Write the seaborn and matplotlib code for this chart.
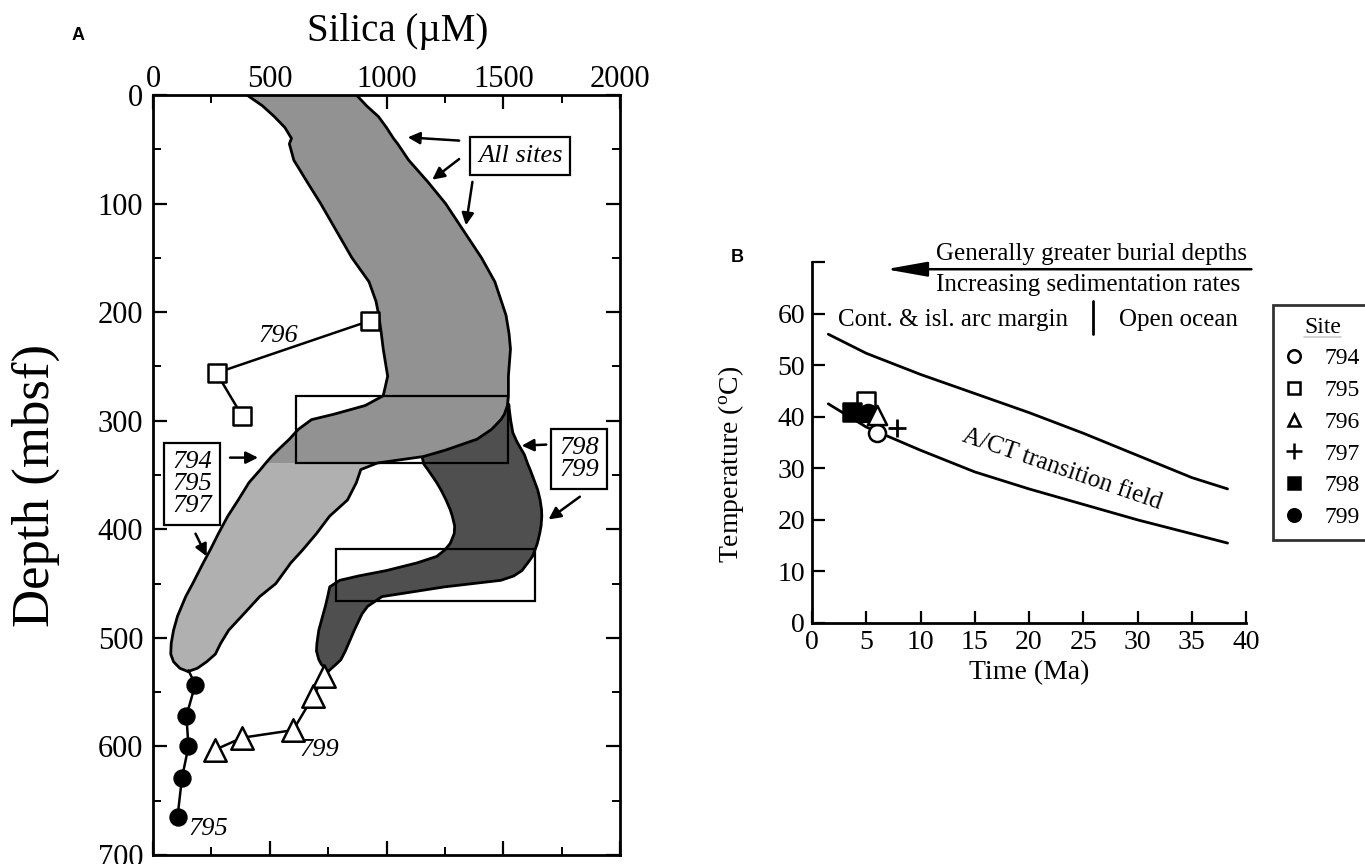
import numpy as np
import pandas as pd
import matplotlib
matplotlib.use("Agg")
import matplotlib.pyplot as plt
import seaborn as sns
from matplotlib.patches import Rectangle
from matplotlib.lines import Line2D

# ---------------- Panel A data (silica uM vs depth mbsf) ----------------
depth_light = [0, 10, 20, 30, 40, 45, 60, 80, 100, 125, 150, 172, 190, 203, 220, 234,
               259, 277, 286, 294, 299, 308, 317, 327, 333, 339, 345, 357, 373, 388,
               404, 419, 431, 450, 462, 480, 493, 505, 515, 522, 528, 531]
left_light = [402, 469, 520, 565, 593, 584, 603, 660, 718, 785, 852, 925, 955, 967, 978, 986,
              1005, 986, 909, 775, 679, 622, 584, 535, 507, 483, 460, 411, 365, 320,
              280, 245, 215, 170, 140, 105, 88, 78, 76, 88, 115, 150]
right_light = [871, 915, 966, 1000, 1030, 1048, 1095, 1177, 1253, 1330, 1407, 1464, 1492, 1512, 1525, 1531,
               1522, 1522, 1518, 1505, 1490, 1450, 1388, 1254, 1158, 960, 890, 871, 833, 756,
               700, 641, 590, 526, 457, 380, 324, 290, 267, 230, 190, 150]

depth_dark = [285, 290, 300, 311, 320, 327, 331, 340, 345, 357, 364, 373, 382, 388, 397, 404,
              413, 419, 425, 431, 438, 443, 447, 453, 462, 471, 478, 493, 505, 512, 520, 524, 528, 531]
left_dark = [1520, 1480, 1380, 1270, 1200, 1160, 1150, 1160, 1177, 1215, 1234, 1255, 1273, 1282, 1292, 1290,
             1273, 1250, 1215, 1130, 1000, 880, 800, 757, 748, 738, 729, 710, 702, 700, 710, 720, 735, 750]
right_dark = [1524, 1526, 1532, 1541, 1560, 1579, 1590, 1605, 1615, 1636, 1648, 1658, 1664, 1665, 1662, 1656,
              1646, 1636, 1625, 1605, 1580, 1545, 1490, 1250, 981, 919, 895, 862, 838, 824, 805, 786, 765, 750]

site796_si = [928, 272, 383]
site796_depth = [208, 256, 296]
site795_si = [152, 181, 143, 152, 124, 105]
site795_depth = [530, 543, 572, 600, 629, 665]
site799_si = [748, 733, 686, 600, 381, 267]
site799_depth = [530, 535, 554, 585, 592, 603]

box_si_lo = [612, 785]
box_si_hi = [1522, 1636]
box_depth_top = [277, 418]
box_depth_bot = [339, 466]

# ---------------- Panel B data ----------------
time_curve = [1.5, 5, 10, 15, 20, 25, 30, 35, 38.3]
temp_upper = [56, 52.3, 48.2, 44.5, 40.8, 36.8, 32.5, 28.2, 26]
temp_lower = [42.5, 38, 33.5, 29.3, 26, 23, 20, 17.3, 15.5]

site_names = ['794', '794', '795', '798', '799', '796', '797']
site_time = [4.7, 6.0, 5.0, 3.7, 5.2, 6.0, 7.8]
site_temp = [40.7, 36.8, 43.0, 40.9, 40.7, 40.3, 37.8]

legend_sites = ['794', '795', '796', '797', '798', '799']
site_marker = {'794': 'o', '795': 's', '796': '^', '797': '+', '798': 's', '799': 'o'}
site_face = {'794': 'white', '795': 'white', '796': 'white', '797': 'black', '798': 'black', '799': 'black'}

# ---------------- style ----------------
sns.set_theme(style="ticks")
plt.rcParams['font.family'] = ['Liberation Serif', 'DejaVu Serif']
plt.rcParams['mathtext.fontset'] = 'custom'
plt.rcParams['mathtext.rm'] = 'Liberation Serif'
plt.rcParams['mathtext.it'] = 'Liberation Serif:italic'
for key in ['text.color', 'axes.labelcolor', 'xtick.color', 'ytick.color', 'axes.edgecolor']:
    plt.rcParams[key] = 'black'

W, H = 1365, 864
fig = plt.figure(figsize=(W / 100, H / 100), dpi=100)
fig.patch.set_facecolor('white')

# ================= Panel A =================
ax = fig.add_axes([153 / W, 1 - 855 / H, (620 - 153) / W, (855 - 95) / H])
dl = np.array(depth_light)
ax.fill_betweenx(dl, left_light, right_light, where=dl >= 335, color='#b0b0b0', lw=0, zorder=2)
ax.fill_betweenx(depth_dark, left_dark, right_dark, color='#4f4f4f', lw=0, zorder=1)
ax.fill_betweenx(dl, left_light, right_light, where=dl <= 339, color='#929292', lw=0, zorder=2)

for xs, ys, z in [(left_light, depth_light, 3), (right_light, depth_light, 3),
                  (left_dark, depth_dark, 1.5), (right_dark, depth_dark, 1.5)]:
    sns.lineplot(x=xs, y=ys, sort=False, estimator=None, orient='y', color='black',
                 lw=2, ax=ax, zorder=z)

for x0, x1, d0, d1 in zip(box_si_lo, box_si_hi, box_depth_top, box_depth_bot):
    ax.add_patch(Rectangle((x0, d0), x1 - x0, d1 - d0, fill=False, ec='black', lw=1.6, zorder=4))

sns.lineplot(x=site796_si, y=site796_depth, sort=False, estimator=None, orient='y',
             color='black', lw=1.8, ax=ax, zorder=5)
sns.scatterplot(x=site796_si, y=site796_depth, marker='s', s=150, facecolor='white',
                edgecolor='black', linewidth=1.8, ax=ax, zorder=6)
sns.lineplot(x=site795_si, y=site795_depth, sort=False, estimator=None, orient='y',
             color='black', lw=1.8, ax=ax, zorder=5)
sns.scatterplot(x=site795_si[1:], y=site795_depth[1:], marker='o', s=150, facecolor='black',
                edgecolor='black', ax=ax, zorder=6)
sns.lineplot(x=site799_si, y=site799_depth, sort=False, estimator=None, orient='y',
             color='black', lw=1.8, ax=ax, zorder=5)
sns.scatterplot(x=site799_si[1:], y=site799_depth[1:], marker='^', s=260, facecolor='white',
                edgecolor='black', linewidth=1.8, ax=ax, zorder=6)

ax.text(536, 222, '796', style='italic', fontsize=19, ha='center', va='center')
ax.text(238, 676, '795', style='italic', fontsize=19, ha='center', va='center')
ax.text(714, 603, '799', style='italic', fontsize=19, ha='center', va='center')

boxprops = dict(boxstyle='square,pad=0.3', fc='white', ec='black', lw=1.6)
ax.text(1573, 56, 'All sites', style='italic', fontsize=19, ha='center', va='center', bbox=boxprops, zorder=7)
ax.text(168, 358, '794\n795\n797', style='italic', fontsize=19, ha='center', va='center',
        linespacing=1.0, bbox=boxprops, zorder=7)
ax.text(1825, 335, '798\n799', style='italic', fontsize=19, ha='center', va='center',
        linespacing=1.0, bbox=boxprops, zorder=7)

arrows_a = [((1311, 42), (1091, 39)), ((1311, 59), (1196, 78)), ((1368, 80), (1340, 120)),
            ((330, 334), (450, 334)), ((182, 404), (230, 425)),
            ((1684, 322), (1579, 323)), ((1828, 370), (1694, 391))]
for tail, head in arrows_a:
    ax.annotate('', xy=head, xytext=tail,
                arrowprops=dict(arrowstyle='-|>', color='black', lw=1.8, mutation_scale=18,
                                shrinkA=0, shrinkB=0), zorder=7)

ax.set_xlim(0, 2000)
ax.set_ylim(700, 0)
ax.set_xticks(np.arange(0, 2001, 500))
ax.set_xticks(np.arange(0, 2001, 250), minor=True)
ax.set_yticks(np.arange(0, 701, 100))
ax.set_yticks(np.arange(0, 701, 50), minor=True)
ax.xaxis.set_label_position('top')
ax.tick_params(axis='x', which='both', top=True, bottom=True, labeltop=True, labelbottom=False,
               direction='in')
ax.tick_params(axis='y', which='both', left=True, right=True, direction='in')
ax.tick_params(which='major', length=10, width=1.6, labelsize=22)
ax.tick_params(axis='x', which='major', pad=1)
ax.tick_params(axis='y', which='major', pad=7)
ax.tick_params(which='minor', length=6, width=1.4)
for sp in ax.spines.values():
    sp.set_linewidth(2)
    sp.set_color('black')
ax.set_xlabel('Silica (\u00b5M)', fontsize=28)
ax.xaxis.label.set_va('center')
ax.xaxis.set_label_coords(0.523, 1.083)
ax.set_ylabel('Depth (mbsf)', fontsize=38)
ax.yaxis.set_label_coords(-0.199, 0.486)
fig.text(78 / W, 1 - 35 / H, 'A', fontfamily='Liberation Sans', fontweight='bold', fontsize=13,
         ha='center', va='center')

# ================= Panel B =================
bx = fig.add_axes([812 / W, 1 - 623 / H, (1246 - 812) / W, (623 - 262) / H])
sns.lineplot(x=time_curve, y=temp_upper, color='black', lw=2, ax=bx)
sns.lineplot(x=time_curve, y=temp_lower, color='black', lw=2, ax=bx)

for name, t, T in zip(site_names, site_time, site_temp):
    m = site_marker[name]
    if m == '+':
        sns.scatterplot(x=[t], y=[T], marker='+', s=170, color='black', linewidth=2, ax=bx, zorder=5)
    else:
        sns.scatterplot(x=[t], y=[T], marker=m, s=150 if m != '^' else 190,
                        facecolor=site_face[name], edgecolor='black', linewidth=1.8, ax=bx, zorder=5)

bx.text(11.4, 71.6, 'Generally greater burial depths', fontsize=18, ha='left', va='center')
bx.text(11.4, 65.6, 'Increasing sedimentation rates', fontsize=18, ha='left', va='center')
bx.annotate('', xy=(6.8, 68.6), xytext=(40.5, 68.6), annotation_clip=False,
            arrowprops=dict(arrowstyle='-|>,head_length=1.4,head_width=0.25', color='black', lw=1.8,
                            mutation_scale=18, shrinkA=0, shrinkB=0))
bx.text(13.0, 58.8, 'Cont. & isl. arc margin', fontsize=18, ha='center', va='center')
bx.text(33.8, 58.8, 'Open ocean', fontsize=18, ha='center', va='center')
bx.plot([25.9, 25.9], [56.0, 62.5], color='black', lw=2)
bx.text(23.0, 29.7, 'A/CT transition field', fontsize=18, ha='center', va='center', rotation=-19)

bx.set_xlim(0, 40)
bx.set_ylim(0, 70)
bx.set_xticks(np.arange(0, 41, 5))
bx.set_yticks(np.arange(0, 71, 10))
bx.set_yticklabels([str(v) if v <= 60 else '' for v in range(0, 71, 10)])
bx.tick_params(which='major', direction='in', length=9, width=1.6, labelsize=20, pad=5)
for s in ['top', 'right']:
    bx.spines[s].set_visible(False)
for s in ['left', 'bottom']:
    bx.spines[s].set_linewidth(2)
    bx.spines[s].set_color('black')
bx.set_xlabel('Time (Ma)', fontsize=20, labelpad=4)
bx.set_ylabel(r'Temperature ($^{\mathrm{o}}$C)', fontsize=20)
bx.yaxis.set_label_coords(-0.152, 0.44)
fig.text(737 / W, 1 - 258 / H, 'B', fontfamily='Liberation Sans', fontweight='bold', fontsize=13,
         ha='center', va='center')

handles = [Line2D([], [], ls='', marker=site_marker[s], mfc=site_face[s], mec='black',
                  color='black', ms=9 if site_marker[s] != '+' else 11, mew=1.8)
           for s in legend_sites]
leg = fig.legend(handles, legend_sites, title='Site', loc='upper left',
                 bbox_to_anchor=(1273 / W, 1 - 305 / H), frameon=True, fancybox=False,
                 edgecolor='black', fontsize=17, title_fontsize=17, handlelength=0.8,
                 handletextpad=0.9, labelspacing=0.43, borderpad=0.5, borderaxespad=0)
leg.get_frame().set_linewidth(2)

fig.canvas.draw()
bb = leg.get_title().get_window_extent()
inv = fig.transFigure.inverted()
(x0, y0), (x1, _) = inv.transform([(bb.x0, bb.y0 + 1), (bb.x1, bb.y0 + 1)])
fig.add_artist(Line2D([x0, x1], [y0, y0], color='black', lw=1.2, transform=fig.transFigure))

fig.savefig('out.png', dpi=100, facecolor='white')
